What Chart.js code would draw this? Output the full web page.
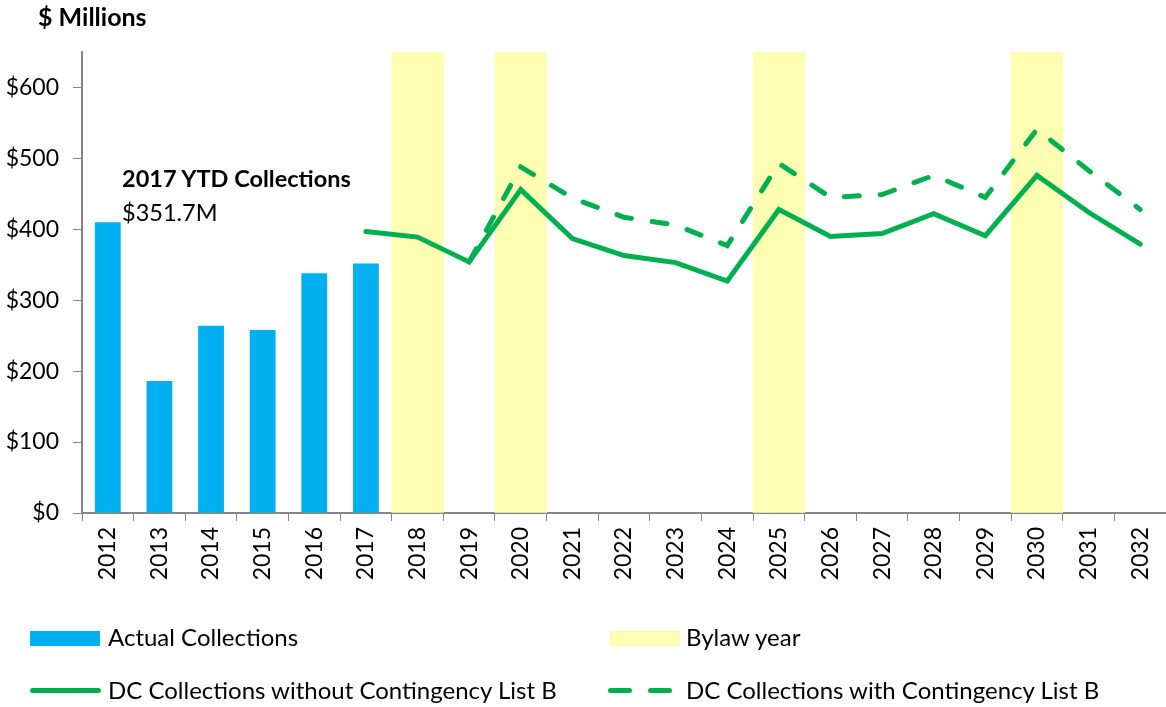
<!DOCTYPE html>
<html>
<head>
<meta charset="utf-8">
<script src="https://cdn.jsdelivr.net/npm/chart.js@4"></script>
<style>
  body { margin: 0; background: #fff; font-family: Lato, "Open Sans", sans-serif; color: #000; }
  #wrap { position: relative; width: 1166px; height: 707px; }
  canvas { position: absolute; left: 0; top: 0; }
  .txt { position: absolute; white-space: nowrap; font-size: 24px; line-height: 28px; }
  .bold { font-weight: bold; }
  .swatch { position: absolute; }
</style>
</head>
<body>
<div id="wrap">
  <canvas id="grafico" width="1166" height="707"></canvas>
  <div class="txt bold" style="left:38px; top:2px; font-size:25px;">$ Millions</div>
  <div class="txt bold" style="left:122px; top:164px; font-size:23.5px;">2017 YTD Collections</div>
  <div class="txt" style="left:122px; top:198px; font-size:23.5px;">$351.7M</div>

  <div class="swatch" style="left:30px; top:631px; width:70px; height:15px; background:#00B0F0;"></div>
  <div class="txt" style="left:108px; top:623px;">Actual Collections</div>
  <div class="swatch" style="left:610px; top:631px; width:70px; height:15px; background:#FFFFB3;"></div>
  <div class="txt" style="left:686px; top:623px;">Bylaw year</div>

  <div class="swatch" style="left:30px; top:688px; width:71px; height:5px; border-radius:3px; background:#00B050;"></div>
  <div class="txt" style="left:108px; top:676px;">DC Collections without Contingency List B</div>
  <div class="swatch" style="left:608px; top:688px; width:24px; height:5px; border-radius:3px; background:#00B050;"></div>
  <div class="swatch" style="left:648px; top:688px; width:24px; height:5px; border-radius:3px; background:#00B050;"></div>
  <div class="txt" style="left:686px; top:676px;">DC Collections with Contingency List B</div>
</div>
<script>
// --- DADOS ---
const anos = ['2012','2013','2014','2015','2016','2017','2018','2019','2020','2021','2022',
              '2023','2024','2025','2026','2027','2028','2029','2030','2031','2032'];
const arrecadado = [410, 186, 264, 258, 338, 351.7, null, null, null, null, null,
                    null, null, null, null, null, null, null, null, null, null];
const semListaB = [null, null, null, null, null, 397, 389, 354, 456, 387, 363,
                   353, 327, 428, 390, 394, 422, 391, 476, 424, 379];
const comListaB = [null, null, null, null, null, null, null, 354, 488, 444, 417,
                   406, 377, 493, 445, 449, 476, 445, 541, 483, 428];
const anosBylaw = ['2018', '2020', '2025', '2030'];
const yMax = 650;
const yTicks = [0, 100, 200, 300, 400, 500, 600];

const bylaw = anos.map(a => anosBylaw.includes(a) ? yMax : null);

const fonte = { family: 'Lato, "Open Sans", sans-serif', size: 23 };
const cinza = '#868686';

new Chart(document.getElementById('grafico').getContext('2d'), {
    data: {
        labels: anos,
        datasets: [
            {
                type: 'line', label: 'DC Collections with Contingency List B', data: comListaB,
                borderColor: '#00B050', borderWidth: 5, borderDash: [15, 21], borderCapStyle: 'round',
                pointRadius: 0, tension: 0, order: 0
            },
            {
                type: 'line', label: 'DC Collections without Contingency List B', data: semListaB,
                borderColor: '#00B050', borderWidth: 5, borderCapStyle: 'round', borderJoinStyle: 'miter',
                pointRadius: 0, tension: 0, order: 1
            },
            {
                type: 'bar', label: 'Actual Collections', data: arrecadado,
                backgroundColor: '#00B0F0', grouped: false,
                barPercentage: 0.5, categoryPercentage: 1, order: 2
            },
            {
                type: 'bar', label: 'Bylaw year', data: bylaw,
                backgroundColor: '#FFFFB3', grouped: false,
                barPercentage: 1, categoryPercentage: 1, order: 3
            }
        ]
    },
    options: {
        responsive: false,
        animation: false,
        layout: { padding: { top: 52, right: 0, bottom: 0, left: 0 } },
        plugins: { legend: { display: false }, tooltip: { enabled: false } },
        scales: {
            x: {
                grid: { display: true, drawOnChartArea: false, drawTicks: true, tickLength: 8, color: cinza, offset: true },
                border: { display: true, color: cinza, width: 2 },
                ticks: { color: '#000', font: fonte, minRotation: 90, maxRotation: 90, padding: 6 },
                afterFit: s => { s.height = 194; s.paddingLeft = 0; s.paddingRight = 0; }
            },
            y: {
                min: 0, max: yMax,
                grid: { display: true, drawOnChartArea: false, drawTicks: true, tickLength: 9, color: cinza },
                border: { display: true, color: cinza, width: 2 },
                ticks: { color: '#000', font: fonte, padding: 14, callback: v => '$' + v },
                afterBuildTicks: s => { s.ticks = yTicks.map(v => ({ value: v })); },
                afterFit: s => { s.width = 82; s.paddingTop = 0; s.paddingBottom = 0; }
            }
        }
    }
});
</script>
</body>
</html>
